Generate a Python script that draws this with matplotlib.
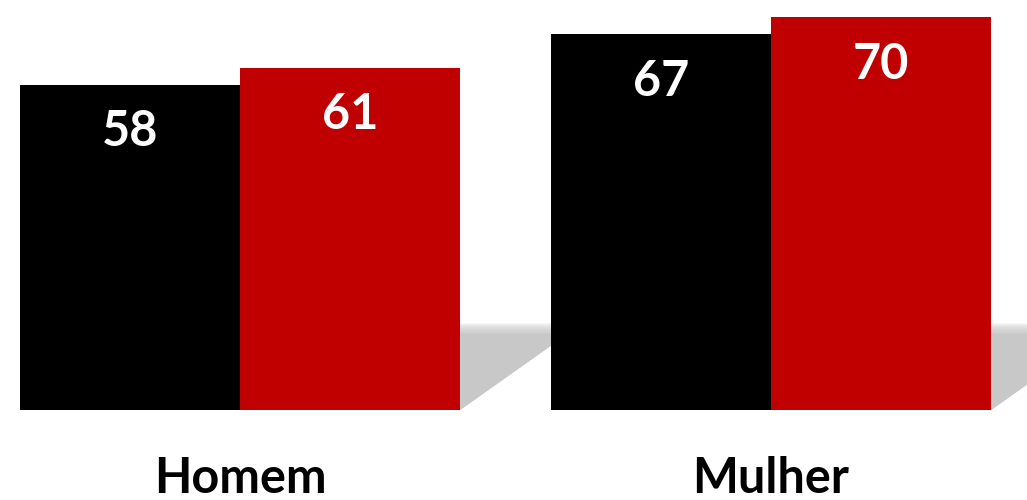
import matplotlib.pyplot as plt
from matplotlib.patches import Polygon

grupos = ['Homem', 'Mulher']
serie_preta = [58, 67]
serie_vermelha = [61, 70]

cor_preta = '#000000'
cor_vermelha = '#C00000'
cor_sombra = '#c8c8c8'

plt.rcParams['font.family'] = ['Lato', 'DejaVu Sans']

fig = plt.figure(figsize=(10.27, 5), dpi=100)
ax = fig.add_axes([0, 0, 1, 1])

w = 220 / 531
x = [0, 1]

# sombra atrás de cada grupo (decoração)
topo_sombra = 15.4
dx = 0.23
for xi in x:
    xr = xi + w
    n = 6
    for k in range(n):
        t = topo_sombra - k * 0.35
        poly = Polygon([(xr - 0.05, 0), (xr - 0.05, t),
                        (xr + dx * t / topo_sombra, t), (xr, 0)],
                       closed=True, facecolor=cor_sombra, edgecolor='none',
                       alpha=0.3 if k < n - 1 else 1.0, zorder=1)
        ax.add_patch(poly)

b1 = ax.bar([xi - w / 2 for xi in x], serie_preta, width=w, color=cor_preta, zorder=3)
b2 = ax.bar([xi + w / 2 for xi in x], serie_vermelha, width=w, color=cor_vermelha, zorder=3)

for barras, vals in ((b1, serie_preta), (b2, serie_vermelha)):
    for b, v in zip(barras, vals):
        ax.text(b.get_x() + b.get_width() / 2, v - 8.4, str(v), color='white',
                fontsize=35, fontweight='bold', ha='center', va='center', zorder=4)

for xi, g in zip(x, grupos):
    ax.text(xi, -12.2, g, color='black', fontsize=35, fontweight='bold',
            ha='center', va='center')

ax.set_xlim(-240 / 531, 1 + 256 / 531)
ax.set_ylim(-90 / 5.61, 410 / 5.61)
ax.axis('off')

fig.savefig('out.png', dpi=100)
